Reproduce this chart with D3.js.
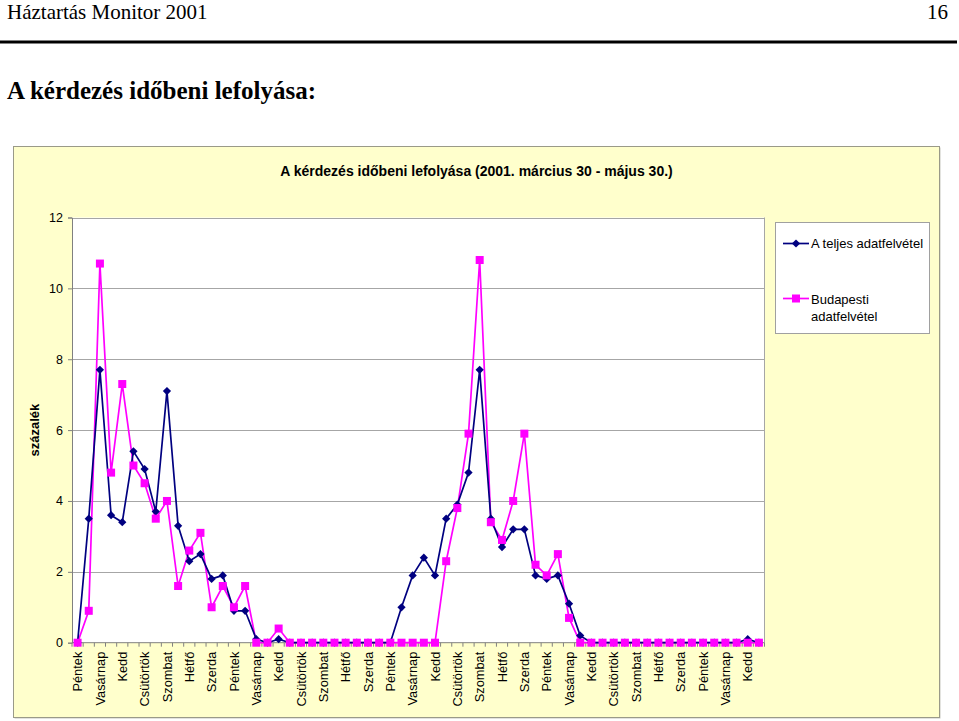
<!DOCTYPE html>
<html>
<head>
<meta charset="utf-8">
<script src="https://cdn.jsdelivr.net/npm/d3@7"></script>
<style>
  html, body { margin: 0; padding: 0; background: #ffffff; }
  svg { display: block; }
</style>
</head>
<body>
<svg id="chart" width="959" height="721"></svg>
<script>
// ---- Data ----
const days = [
  "Péntek","Szombat","Vasárnap","Hétfő","Kedd","Szerda","Csütörtök",
  "Péntek","Szombat","Vasárnap","Hétfő","Kedd","Szerda","Csütörtök",
  "Péntek","Szombat","Vasárnap","Hétfő","Kedd","Szerda","Csütörtök",
  "Péntek","Szombat","Vasárnap","Hétfő","Kedd","Szerda","Csütörtök",
  "Péntek","Szombat","Vasárnap","Hétfő","Kedd","Szerda","Csütörtök",
  "Péntek","Szombat","Vasárnap","Hétfő","Kedd","Szerda","Csütörtök",
  "Péntek","Szombat","Vasárnap","Hétfő","Kedd","Szerda","Csütörtök",
  "Péntek","Szombat","Vasárnap","Hétfő","Kedd","Szerda","Csütörtök",
  "Péntek","Szombat","Vasárnap","Hétfő","Kedd","Szerda"
];
const teljes = [
  0, 3.5, 7.7, 3.6, 3.4, 5.4, 4.9, 3.7, 7.1, 3.3,
  2.3, 2.5, 1.8, 1.9, 0.9, 0.9, 0.1, 0, 0.1, 0,
  0, 0, 0, 0, 0, 0, 0, 0, 0, 1.0,
  1.9, 2.4, 1.9, 3.5, 3.9, 4.8, 7.7, 3.5, 2.7, 3.2,
  3.2, 1.9, 1.8, 1.9, 1.1, 0.2, 0, 0, 0, 0,
  0, 0, 0, 0, 0, 0, 0, 0, 0, 0,
  0.1, 0
];
const budapest = [
  0, 0.9, 10.7, 4.8, 7.3, 5.0, 4.5, 3.5, 4.0, 1.6,
  2.6, 3.1, 1.0, 1.6, 1.0, 1.6, 0, 0, 0.4, 0,
  0, 0, 0, 0, 0, 0, 0, 0, 0, 0,
  0, 0, 0, 2.3, 3.8, 5.9, 10.8, 3.4, 2.9, 4.0,
  5.9, 2.2, 1.9, 2.5, 0.7, 0, 0, 0, 0, 0,
  0, 0, 0, 0, 0, 0, 0, 0, 0, 0,
  0, 0
];
const yTicks = [0, 2, 4, 6, 8, 10, 12];
const seriesNames = ["A teljes adatfelvétel", ["Budapesti", "adatfelvétel"]];

const idx = d3.range(days.length);

// ---- Layout ----
const svg = d3.select("#chart");
const SANS = "'Liberation Sans', Arial, sans-serif";
const SERIF = "'Liberation Serif', 'Times New Roman', serif";

// Page header
svg.append("text").attr("x", 7).attr("y", 19)
  .attr("font-family", SERIF).attr("font-size", 21).text("Háztartás Monitor 2001");
svg.append("text").attr("x", 948).attr("y", 19).attr("text-anchor", "end")
  .attr("font-family", SERIF).attr("font-size", 21).text("16");
svg.append("rect").attr("x", 0).attr("y", 40.5).attr("width", 957).attr("height", 3).attr("fill", "#000");
svg.append("text").attr("x", 7).attr("y", 99)
  .attr("font-family", SERIF).attr("font-size", 25).attr("font-weight", "bold")
  .text("A kérdezés időbeni lefolyása:");

// Chart area
svg.append("rect").attr("x", 14.5).attr("y", 147.5).attr("width", 926).attr("height", 571)
  .attr("fill", "#c8c8c0");
svg.append("rect").attr("x", 13.5).attr("y", 146.5).attr("width", 926).attr("height", 571)
  .attr("fill", "#ffffcc").attr("stroke", "#9a9a88").attr("stroke-width", 1);

svg.append("text").attr("x", 476.5).attr("y", 176).attr("text-anchor", "middle")
  .attr("font-family", SANS).attr("font-size", 14).attr("font-weight", "bold")
  .text("A kérdezés időbeni lefolyása (2001. március 30 - május 30.)");

const pL = 72, pR = 764.5, pT = 217.5, pB = 642.7;

const x = d3.scaleBand().domain(idx).range([pL, pR]).paddingInner(0).paddingOuter(0);
const cx = i => x(i) + x.bandwidth() / 2;
const y = d3.scaleLinear().domain([0, 12]).range([pB, pT]);

// Plot area
svg.append("rect").attr("x", pL).attr("y", pT).attr("width", pR - pL).attr("height", pB - pT)
  .attr("fill", "#ffffff");

// gridlines
svg.append("g").selectAll("line").data(yTicks.filter(t => t > 0)).join("line")
  .attr("x1", pL).attr("x2", pR)
  .attr("y1", d => Math.round(y(d)) + 0.5).attr("y2", d => Math.round(y(d)) + 0.5)
  .attr("stroke", "#a6a6a6").attr("stroke-width", 1);
// right border
svg.append("line").attr("x1", pR).attr("x2", pR).attr("y1", pT).attr("y2", pB)
  .attr("stroke", "#a6a6a6");

// Y axis
const yAxis = d3.axisLeft(y).tickValues(yTicks).tickSize(4).tickPadding(5).tickFormat(d3.format("d"));
const gy = svg.append("g").attr("transform", `translate(${pL},0)`).call(yAxis);
gy.select(".domain").attr("stroke", "#808080");
gy.selectAll(".tick line").attr("stroke", "#808080");
gy.selectAll(".tick text").attr("font-family", SANS).attr("font-size", 12.5).attr("fill", "#000");

// X axis: ticks between categories
const gx = svg.append("g");
gx.append("line").attr("x1", pL).attr("x2", pR).attr("y1", pB).attr("y2", pB)
  .attr("stroke", "#808080");
gx.selectAll("line.tk").data(d3.range(days.length + 1)).join("line").attr("class", "tk")
  .attr("x1", i => pL + i * x.bandwidth()).attr("x2", i => pL + i * x.bandwidth())
  .attr("y1", pB).attr("y2", pB + 4).attr("stroke", "#808080");
gx.selectAll("text").data(idx.filter(i => i % 2 === 0)).join("text")
  .attr("transform", i => `translate(${cx(i)},${pB + 9}) rotate(-90)`)
  .attr("text-anchor", "end").attr("dy", "0.36em")
  .attr("font-family", SANS).attr("font-size", 12.8).attr("fill", "#000")
  .text(i => days[i]);

// Y axis title
svg.append("text").attr("transform", `translate(39,${(pT + pB) / 2}) rotate(-90)`)
  .attr("text-anchor", "middle").attr("font-family", SANS).attr("font-size", 13).attr("font-weight", "bold")
  .text("százalék");

// Lines
const line = d3.line().x((d, i) => cx(i)).y(d => y(d));
const NAVY = "#000080", MAG = "#ff00ff";
svg.append("path").datum(budapest).attr("d", line).attr("fill", "none")
  .attr("stroke", MAG).attr("stroke-width", 1.7);
svg.append("path").datum(teljes).attr("d", line).attr("fill", "none")
  .attr("stroke", NAVY).attr("stroke-width", 1.7);

const diamond = d3.symbol().type(d3.symbolSquare).size(34)();
svg.append("g").selectAll("path").data(teljes).join("path")
  .attr("d", diamond)
  .attr("transform", (d, i) => `translate(${cx(i)},${y(d)}) rotate(45)`)
  .attr("fill", NAVY);
svg.append("g").selectAll("rect").data(budapest).join("rect")
  .attr("x", (d, i) => cx(i) - 4).attr("y", d => y(d) - 4)
  .attr("width", 8).attr("height", 8).attr("fill", MAG);

// Legend
const lg = svg.append("g");
lg.append("rect").attr("x", 775.5).attr("y", 222.5).attr("width", 154).attr("height", 111)
  .attr("fill", "#ffffff").attr("stroke", "#a0a0a0");
lg.append("line").attr("x1", 783).attr("x2", 809).attr("y1", 243.5).attr("y2", 243.5)
  .attr("stroke", NAVY).attr("stroke-width", 1.7);
lg.append("path").attr("d", diamond).attr("transform", "translate(796,243.5) rotate(45)").attr("fill", NAVY);
lg.append("text").attr("x", 811).attr("y", 248).attr("font-family", SANS).attr("font-size", 13)
  .text(seriesNames[0]);
lg.append("line").attr("x1", 783).attr("x2", 809).attr("y1", 298.5).attr("y2", 298.5)
  .attr("stroke", MAG).attr("stroke-width", 1.7);
lg.append("rect").attr("x", 792).attr("y", 294.5).attr("width", 8).attr("height", 8).attr("fill", MAG);
lg.append("text").attr("x", 811).attr("y", 303.5).attr("font-family", SANS).attr("font-size", 13)
  .text(seriesNames[1][0]);
lg.append("text").attr("x", 811).attr("y", 320.5).attr("font-family", SANS).attr("font-size", 13)
  .text(seriesNames[1][1]);
</script>
</body>
</html>
